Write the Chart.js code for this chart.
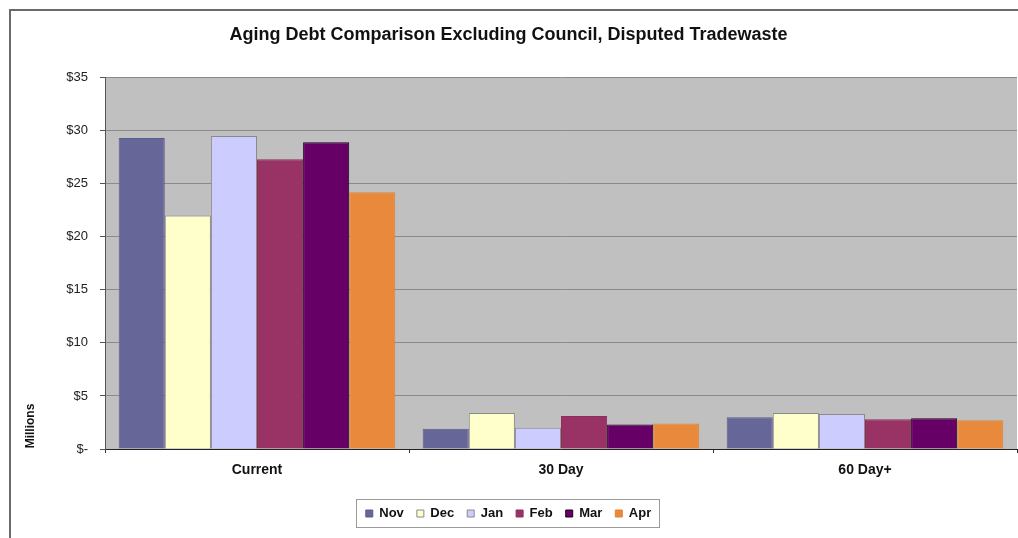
<!DOCTYPE html>
<html>
<head>
<meta charset="utf-8">
<title>Aging Debt Comparison</title>
<script src="https://cdn.jsdelivr.net/npm/chart.js@4/dist/chart.umd.min.js"></script>
<style>
  html, body { margin: 0; background: #fff; }
  #wrap { position: relative; width: 1018px; height: 538px; overflow: hidden; }
  #frame { position: absolute; left: 9px; top: 9px; width: 1020px; height: 540px;
           border-left: 2px solid #6a6a6a; border-top: 2px solid #6a6a6a; pointer-events: none; }
</style>
</head>
<body>
<div id="wrap">
  <canvas id="debt" width="1018" height="538"></canvas>
  <div id="frame"></div>
</div>
<script>
'use strict';

// ── Data (millions of dollars) ────────────────────────────────────────────
const CATEGORIES = ['Current', '30 Day', '60 Day+'];
const MONTHS     = ['Nov', 'Dec', 'Jan', 'Feb', 'Mar', 'Apr'];
const NOV = [29.3, 1.9, 3.0];
const DEC = [22.0, 3.4, 3.4];
const JAN = [29.5, 2.0, 3.3];
const FEB = [27.3, 3.1, 2.8];
const MAR = [28.9, 2.3, 2.9];
const APR = [24.2, 2.4, 2.7];
const Y_TICKS = [0, 5, 10, 15, 20, 25, 30, 35];

// ── Colours (Excel 2003 palette) ──────────────────────────────────────────
const FILLS   = ['#666699', '#ffffcc', '#ccccff', '#993366', '#660066', '#e8893c'];
const BORDERS = ['#5c5c8c', '#8a8a8a', '#8a8a8a', '#8c2f5c', '#1a001a', '#e08236'];
const PLOT_BG = '#c0c0c0';

const SERIES = [NOV, DEC, JAN, FEB, MAR, APR];

// ── Plugins ───────────────────────────────────────────────────────────────
const plotBackground = {
  id: 'plotBackground',
  beforeDraw(chart) {
    const { ctx, chartArea: a } = chart;
    ctx.save();
    ctx.fillStyle = PLOT_BG;
    ctx.fillRect(a.left, a.top, a.right - a.left, a.bottom - a.top);
    ctx.restore();
  },
};

// y-axis title sits low next to the axis, like the original
const millionsLabel = {
  id: 'millionsLabel',
  afterDraw(chart) {
    const { ctx } = chart;
    ctx.save();
    ctx.translate(31, chart.chartArea.bottom - 23);
    ctx.rotate(-Math.PI / 2);
    ctx.font = 'bold 12px "Liberation Sans", Arial, sans-serif';
    ctx.fillStyle = '#111';
    ctx.textAlign = 'center';
    ctx.textBaseline = 'middle';
    ctx.fillText('Millions', 0, 0);
    ctx.restore();
  },
};

// thin frame round the legend items
const legendFrame = {
  id: 'legendFrame',
  afterDraw(chart) {
    const lg = chart.legend;
    if (!lg || !lg.legendHitBoxes || !lg.legendHitBoxes.length) return;
    const boxes = lg.legendHitBoxes;
    const left  = Math.min(...boxes.map(b => b.left)) - 10;
    const right = Math.max(...boxes.map(b => b.left + b.width)) + 8;
    const top   = Math.min(...boxes.map(b => b.top)) - 8;
    const bot   = Math.max(...boxes.map(b => b.top + b.height)) + 7;
    const { ctx } = chart;
    ctx.save();
    ctx.strokeStyle = '#9a9a9a';
    ctx.lineWidth = 1;
    ctx.strokeRect(Math.round(left) + 0.5, Math.round(top) + 0.5, Math.round(right - left), Math.round(bot - top));
    ctx.restore();
  },
};

// ── Chart ─────────────────────────────────────────────────────────────────
const FONT = '"Liberation Sans", Arial, sans-serif';
const PLOT_BOTTOM = 449;

new Chart(document.getElementById('debt'), {
  type: 'bar',
  data: {
    labels: CATEGORIES,
    datasets: MONTHS.map((m, i) => ({
      label: m,
      data: SERIES[i],
      backgroundColor: FILLS[i],
      borderColor: BORDERS[i],
      borderWidth: 1,
      categoryPercentage: 0.91,
      barPercentage: 1.0,
    })),
  },
  options: {
    responsive: false,
    animation: false,
    layout: { padding: { left: 0, right: 1, top: 0, bottom: 8 } },
    scales: {
      x: {
        grid: { display: true, drawOnChartArea: false, drawTicks: true, tickLength: 4, color: '#333' },
        border: { display: true, color: '#222', width: 1 },
        ticks: { color: '#111', font: { family: FONT, size: 14, weight: 'bold' }, padding: 9 },
        afterFit(s) {
          const lgH = s.chart.legend ? s.chart.legend.height : 0;
          s.height = s.chart.height - PLOT_BOTTOM - lgH - 8;
        },
      },
      y: {
        min: 0, max: 35,
        afterBuildTicks(s) { s.ticks = Y_TICKS.map(v => ({ value: v })); },
        grid: { color: '#8a8a8a', tickLength: 5, tickColor: '#555' },
        border: { display: true, color: '#555', width: 1 },
        ticks: {
          color: '#222',
          font: { family: FONT, size: 13 },
          padding: 12,
          callback: v => v === 0 ? '$-' : '$' + v,
        },
        afterFit(s) { s.width = 105; },
      },
    },
    plugins: {
      title: {
        display: true,
        text: 'Aging Debt Comparison Excluding Council, Disputed Tradewaste',
        color: '#111',
        font: { family: FONT, size: 18, weight: 'bold' },
        padding: { top: 24, bottom: 32 },
      },
      legend: {
        position: 'bottom',
        labels: {
          boxWidth: 7, boxHeight: 7, padding: 13,
          color: '#111',
          font: { family: FONT, size: 13, weight: 'bold' },
        },
      },
      tooltip: { enabled: false },
    },
  },
  plugins: [plotBackground, millionsLabel, legendFrame],
});
</script>
</body>
</html>
